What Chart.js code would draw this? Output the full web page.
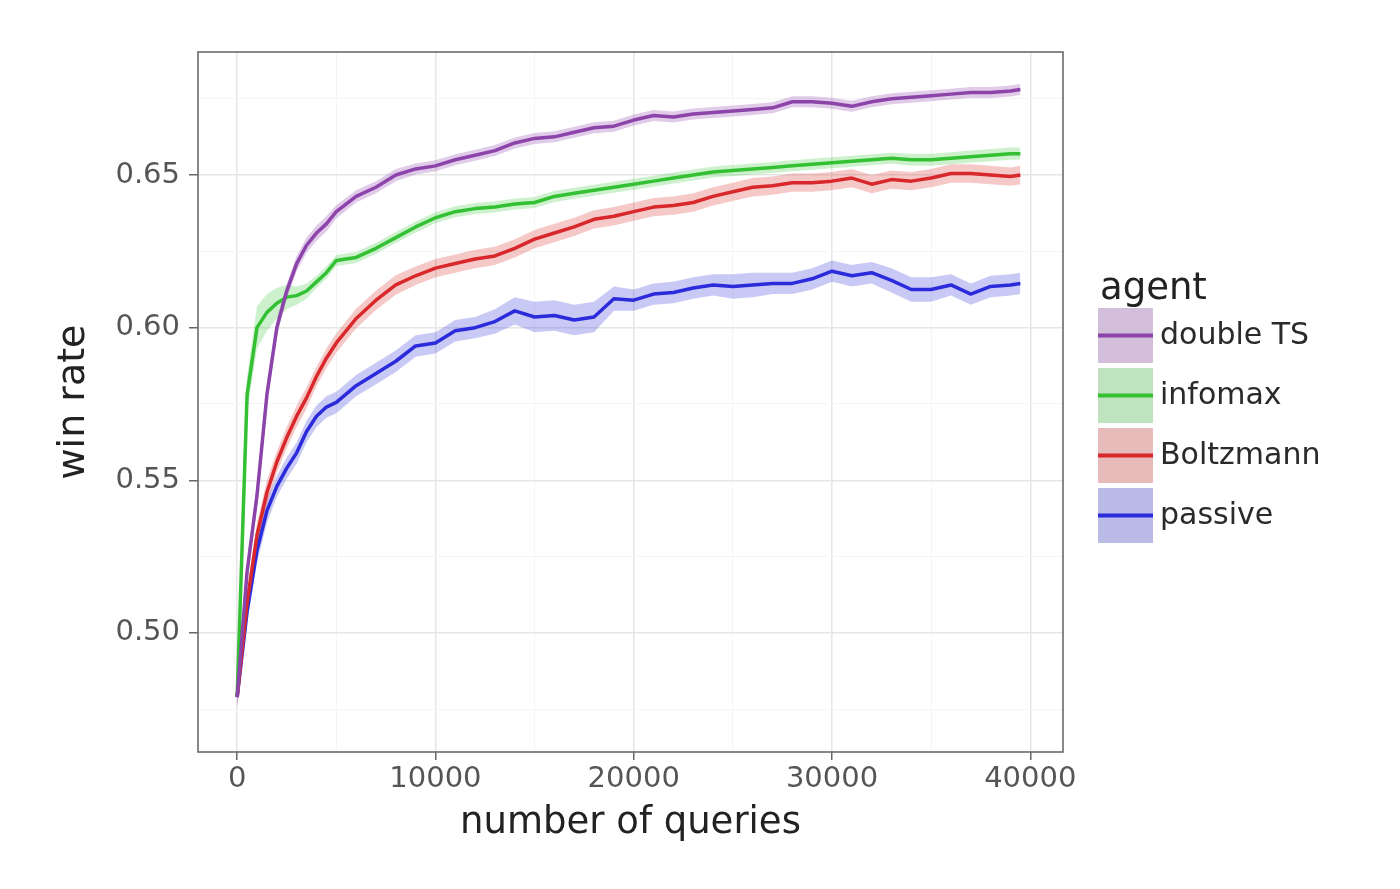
<!DOCTYPE html>
<html>
<head>
<meta charset="utf-8">
<script src="https://cdn.jsdelivr.net/npm/chart.js@4.4.1/dist/chart.umd.min.js"></script>
<style>
  html, body { margin: 0; padding: 0; background: #fff; }
  #grafico { display: block; }
</style>
</head>
<body>
<canvas id="grafico" width="1400" height="889"></canvas>
<script>
// number of queries
const queries = [0, 500, 1000, 1500, 2000, 2500, 3000, 3500, 4000, 4500, 5000,
  6000, 7000, 8000, 9000, 10000, 11000, 12000, 13000, 14000, 15000, 16000, 17000, 18000, 19000,
  20000, 21000, 22000, 23000, 24000, 25000, 26000, 27000, 28000, 29000,
  30000, 31000, 32000, 33000, 34000, 35000, 36000, 37000, 38000, 39000, 39500];

// win rate per agent (mean line)
const doubleTS = [0.479, 0.520, 0.545, 0.578, 0.600, 0.612, 0.621, 0.627, 0.631, 0.634, 0.638,
  0.643, 0.646, 0.650, 0.652, 0.653, 0.655, 0.6565, 0.658, 0.6605, 0.662, 0.6625, 0.664, 0.6655, 0.666,
  0.668, 0.6695, 0.669, 0.670, 0.6705, 0.671, 0.6715, 0.672, 0.674, 0.674,
  0.6735, 0.6725, 0.674, 0.675, 0.6755, 0.676, 0.6765, 0.677, 0.677, 0.6775, 0.678];
const infomax = [0.479, 0.578, 0.600, 0.605, 0.608, 0.610, 0.6105, 0.612, 0.615, 0.618, 0.622,
  0.623, 0.626, 0.6295, 0.633, 0.636, 0.638, 0.639, 0.6395, 0.6405, 0.641, 0.643, 0.644, 0.645, 0.646,
  0.647, 0.648, 0.649, 0.650, 0.651, 0.6515, 0.652, 0.6525, 0.653, 0.6535,
  0.654, 0.6545, 0.655, 0.6555, 0.655, 0.655, 0.6555, 0.656, 0.6565, 0.657, 0.657];
const boltzmann = [0.479, 0.510, 0.532, 0.546, 0.556, 0.564, 0.571, 0.577, 0.584, 0.590, 0.595,
  0.603, 0.609, 0.614, 0.617, 0.6195, 0.621, 0.6225, 0.6235, 0.626, 0.629, 0.631, 0.633, 0.6355, 0.6365,
  0.638, 0.6395, 0.640, 0.641, 0.643, 0.6445, 0.646, 0.6465, 0.6475, 0.6475,
  0.648, 0.649, 0.647, 0.6485, 0.648, 0.649, 0.6505, 0.6505, 0.650, 0.6495, 0.650];
const passive = [0.479, 0.507, 0.527, 0.540, 0.548, 0.554, 0.559, 0.566, 0.571, 0.574, 0.5755,
  0.581, 0.585, 0.589, 0.594, 0.595, 0.599, 0.600, 0.602, 0.6055, 0.6035, 0.604, 0.6025, 0.6035, 0.6095,
  0.609, 0.611, 0.6115, 0.613, 0.614, 0.6135, 0.614, 0.6145, 0.6145, 0.616,
  0.6185, 0.617, 0.618, 0.6155, 0.6125, 0.6125, 0.614, 0.611, 0.6135, 0.614, 0.6145];

// half width of the shaded band around each line
const bandDoubleTS = [0.003, 0.004, 0.004, 0.004, 0.003, 0.0025, 0.0025, 0.0025, 0.0025, 0.0025, 0.0022,
  0.002, 0.002, 0.002, 0.0018, 0.0018, 0.0018, 0.0018, 0.0018, 0.0018, 0.0018, 0.0018, 0.0018, 0.0018, 0.0018,
  0.0018, 0.0018, 0.0018, 0.0018, 0.0018, 0.0018, 0.0018, 0.0018, 0.0018, 0.0018,
  0.0018, 0.0018, 0.0018, 0.0018, 0.0018, 0.0018, 0.0018, 0.0018, 0.0018, 0.0018, 0.0018];
const bandInfomax = [0.003, 0.006, 0.007, 0.006, 0.005, 0.004, 0.003, 0.0025, 0.002, 0.002, 0.0018,
  0.0018, 0.0018, 0.0018, 0.0018, 0.0018, 0.0018, 0.0018, 0.0018, 0.0018, 0.0018, 0.0018, 0.0018, 0.0018, 0.0018,
  0.0018, 0.0018, 0.0018, 0.0018, 0.0018, 0.0018, 0.0018, 0.0018, 0.0018, 0.0018,
  0.0018, 0.0018, 0.0018, 0.0018, 0.002, 0.002, 0.002, 0.002, 0.002, 0.002, 0.002];
const bandBoltzmann = [0.003, 0.004, 0.004, 0.004, 0.0035, 0.0035, 0.0035, 0.0035, 0.0032, 0.0032, 0.0032,
  0.0032, 0.0032, 0.0032, 0.003, 0.003, 0.003, 0.003, 0.003, 0.003, 0.003, 0.003, 0.003, 0.003, 0.003,
  0.003, 0.003, 0.003, 0.003, 0.003, 0.003, 0.003, 0.003, 0.003, 0.003,
  0.003, 0.003, 0.003, 0.003, 0.003, 0.003, 0.003, 0.003, 0.003, 0.003, 0.003];
const bandPassive = [0.003, 0.004, 0.004, 0.004, 0.0035, 0.0035, 0.0035, 0.0035, 0.0035, 0.0035, 0.0035,
  0.0035, 0.0035, 0.0035, 0.0035, 0.0035, 0.0035, 0.0035, 0.004, 0.0045, 0.005, 0.005, 0.005, 0.005, 0.004,
  0.0035, 0.0035, 0.0035, 0.0035, 0.0035, 0.004, 0.004, 0.0035, 0.0035, 0.0035,
  0.0035, 0.0035, 0.0035, 0.004, 0.004, 0.004, 0.0035, 0.0035, 0.0035, 0.0035, 0.0035];

const agentNames = ['double TS', 'infomax', 'Boltzmann', 'passive'];
const lineColors = ['#8c44aa', '#33c033', '#d8282c', '#2b2bdc'];
const bandColors = ['rgba(142,68,173,0.28)', 'rgba(60,200,60,0.26)', 'rgba(220,40,40,0.25)', 'rgba(40,40,220,0.25)'];

// axis ticks (major ones get a label)
const xTicks = [0, 5000, 10000, 15000, 20000, 25000, 30000, 35000, 40000];
const yTicks = [0.475, 0.5, 0.525, 0.55, 0.575, 0.6, 0.625, 0.65, 0.675];

const FONT = '"DejaVu Sans", "Liberation Sans", sans-serif';
const series = [doubleTS, infomax, boltzmann, passive];
const bands = [bandDoubleTS, bandInfomax, bandBoltzmann, bandPassive];

const esMayorX = v => v % 10000 === 0;
const esMayorY = v => Math.abs(v * 20 - Math.round(v * 20)) < 1e-6;

// lineas primero (se dibujan arriba), despues las bandas
const datasets = [];
series.forEach((s, i) => {
  datasets.push({
    label: agentNames[i],
    data: queries.map((q, k) => ({ x: q, y: s[k] })),
    borderColor: lineColors[i],
    borderWidth: 3.5,
    borderJoinStyle: 'round',
    pointRadius: 0,
    fill: false,
    tension: 0
  });
});
series.forEach((s, i) => {
  datasets.push({
    label: agentNames[i] + ' low',
    data: queries.map((q, k) => ({ x: q, y: s[k] - bands[i][k] })),
    borderWidth: 0,
    borderColor: 'rgba(0,0,0,0)',
    pointRadius: 0,
    fill: false
  });
  datasets.push({
    label: agentNames[i] + ' high',
    data: queries.map((q, k) => ({ x: q, y: s[k] + bands[i][k] })),
    borderWidth: 0,
    borderColor: 'rgba(0,0,0,0)',
    backgroundColor: bandColors[i],
    pointRadius: 0,
    fill: '-1'
  });
});

// borde del panel + leyenda a mano
const panelYLeyenda = {
  id: 'panelYLeyenda',
  afterDraw(chart) {
    const { ctx, chartArea: a } = chart;
    ctx.save();
    ctx.strokeStyle = '#6b6b6b';
    ctx.lineWidth = 1.6;
    ctx.strokeRect(a.left, a.top, a.right - a.left, a.bottom - a.top);

    ctx.fillStyle = '#222';
    ctx.font = '37px ' + FONT;
    ctx.textBaseline = 'alphabetic';
    ctx.textAlign = 'left';
    ctx.fillText('agent', 1100, 299);

    ctx.font = '30px ' + FONT;
    ctx.textBaseline = 'middle';
    agentNames.forEach((n, i) => {
      const top = 308 + i * 60;
      ctx.fillStyle = '#ededed';
      ctx.fillRect(1098, top, 55, 55);
      ctx.fillStyle = bandColors[i];
      ctx.fillRect(1098, top, 55, 55);
      ctx.strokeStyle = lineColors[i];
      ctx.lineWidth = 4;
      ctx.beginPath();
      ctx.moveTo(1098, top + 27.5);
      ctx.lineTo(1153, top + 27.5);
      ctx.stroke();
      ctx.fillStyle = '#2a2a2a';
      ctx.fillText(n, 1160, top + 28);
    });
    ctx.restore();
  }
};

new Chart(document.getElementById('grafico').getContext('2d'), {
  type: 'line',
  data: { datasets },
  options: {
    responsive: false,
    devicePixelRatio: 1,
    animation: false,
    layout: { padding: { top: 52, right: 337, bottom: 0, left: 0 } },
    plugins: { legend: { display: false }, tooltip: { enabled: false } },
    scales: {
      x: {
        type: 'linear',
        min: -1975,
        max: 41650,
        afterBuildTicks: s => { s.ticks = xTicks.map(v => ({ value: v })); },
        afterFit: s => { s.height = 137; },
        border: { display: false },
        grid: {
          color: c => (c.tick && esMayorX(c.tick.value)) ? '#e6e6e6' : '#f5f5f5',
          lineWidth: c => (c.tick && esMayorX(c.tick.value)) ? 1.5 : 1,
          tickColor: c => (c.tick && esMayorX(c.tick.value)) ? '#666' : 'rgba(0,0,0,0)',
          tickLength: 8,
          tickWidth: 1.5
        },
        ticks: {
          autoSkip: false,
          maxRotation: 0,
          padding: 2,
          color: '#555',
          font: { family: FONT, size: 29 },
          callback: v => esMayorX(v) ? String(v) : ''
        },
        title: {
          display: true,
          text: 'number of queries',
          color: '#222',
          font: { family: FONT, size: 37 },
          padding: { top: 0, bottom: 43 }
        }
      },
      y: {
        type: 'linear',
        min: 0.461,
        max: 0.6903,
        afterBuildTicks: s => { s.ticks = yTicks.map(v => ({ value: v })); },
        afterFit: s => { s.width = 198; },
        border: { display: false },
        grid: {
          color: c => (c.tick && esMayorY(c.tick.value)) ? '#e6e6e6' : '#f5f5f5',
          lineWidth: c => (c.tick && esMayorY(c.tick.value)) ? 1.5 : 1,
          tickColor: c => (c.tick && esMayorY(c.tick.value)) ? '#666' : 'rgba(0,0,0,0)',
          tickLength: 9,
          tickWidth: 1.5
        },
        ticks: {
          autoSkip: false,
          padding: 9,
          color: '#555',
          font: { family: FONT, size: 29 },
          callback: v => esMayorY(v) ? v.toFixed(2) : ''
        },
        title: {
          display: true,
          text: 'win rate',
          color: '#222',
          font: { family: FONT, size: 38 },
          padding: { top: 51, bottom: 0 }
        }
      }
    }
  },
  plugins: [panelYLeyenda]
});
</script>
</body>
</html>
